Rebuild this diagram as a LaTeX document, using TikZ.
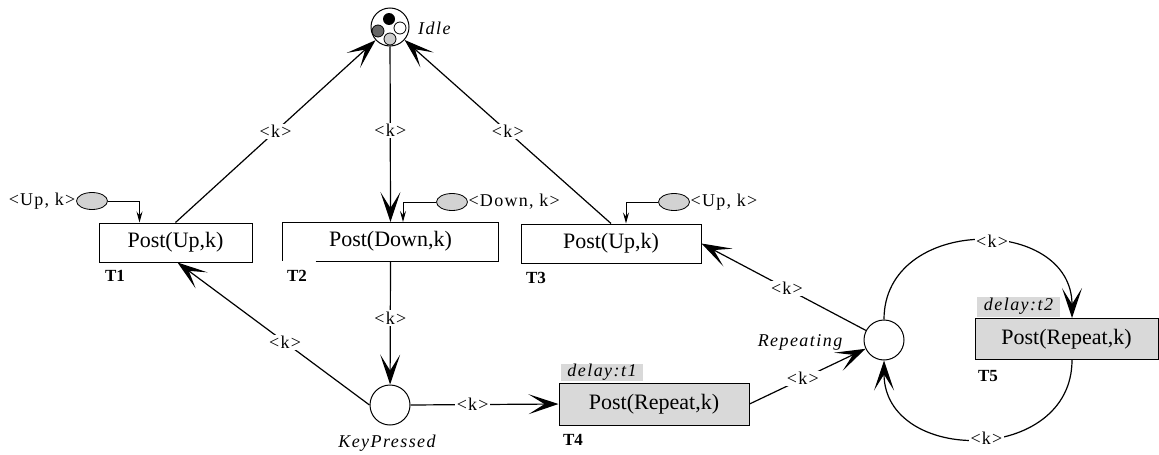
\documentclass[tikz,border=0pt]{standalone}
\usepackage{fontspec}
\setmainfont{Liberation Serif}
\newfontfamily\lsfont[LetterSpace=7]{Liberation Serif}
\newfontfamily\isfont[LetterSpace=8]{Liberation Serif}
\newfontfamily\psfont{Liberation Serif}
\newfontfamily\tbfont{Liberation Serif}
\usetikzlibrary{arrows.meta,shapes.geometric}
\newcommand\kfont{\lsfont\fontsize{18}{20}\selectfont}
\newcommand\ifont{\isfont\fontsize{18}{20}\selectfont\itshape}
\newcommand\postfont{\psfont\fontsize{22}{24}\selectfont}
\newcommand\tlfont{\tbfont\bfseries\fontsize{17}{19}\selectfont}
\begin{document}
\begin{tikzpicture}[x=1pt,y=-1pt,
  trans/.style={draw, line width=1pt, minimum height=39pt, inner sep=0pt, font=\postfont},
  place/.style={circle, draw, line width=1pt, minimum size=40pt, inner sep=0pt},
  inp/.style={ellipse, draw, fill=gray!35, minimum width=31pt, minimum height=17pt, inner sep=0pt, line width=0.8pt},
  arc/.style={line width=1.2pt, -{Stealth[length=30pt,width=20pt,inset=16pt]}},
  inarc/.style={line width=1pt, -{Stealth[length=11pt,width=6pt,inset=4pt]}},
  lbl/.style={fill=white, inner sep=1.5pt, font=\kfont},
  kl/.style={inner sep=0.5pt, font=\kfont},
  tlab/.style={inner sep=0pt, font=\tlfont},
  ilab/.style={inner sep=0pt, font=\ifont},
  delaybox/.style={fill=gray!30, inner sep=0pt, font=\ifont, minimum height=17pt}
]
\useasboundingbox (0,0) rectangle (1159,455);
% places
\node[place, minimum size=38pt] (idle) at (390,27) {};
\fill[black] (389,19) circle (6);
\draw[line width=0.8pt, fill=white] (400,28) circle (6);
\draw[line width=0.8pt, fill=gray!80!black] (378,31) circle (6);
\draw[line width=0.8pt, fill=gray!40] (390,39) circle (6);
\node[place] (kp) at (390,405) {};
\node[place] (rep) at (884,340) {};
% transitions
\node[trans, minimum width=153pt] (t1) at (175.5,242.5) {Post(Up,k)};
\node[trans, draw=none, minimum width=215pt, minimum height=38pt] (t2) at (390.5,241.5) {Post(Down,k)};
\draw[line width=1pt] ([xshift=33pt]t2.south west) -- (t2.south east) -- (t2.north east) -- (t2.north west) -- (t2.south west);
\node[trans, minimum width=180pt] (t3) at (611,243.5) {Post(Up,k)};
\node[trans, fill=gray!30, minimum width=190pt, minimum height=42pt] (t4) at (654,404) {Post(Repeat,k)};
\node[trans, fill=gray!30, minimum width=183pt, minimum height=41pt] (t5) at (1066.5,339) {Post(Repeat,k)};
\node[delaybox, minimum width=82pt] (d1) at (602,372) {delay:t1};
\node[delaybox, minimum width=83pt, minimum height=20pt] (d2) at (1018.5,306.5) {delay:t2};
% labels
\node[tlab] (lt1) at (115,276) {T1};
\node[tlab] (lt2) at (297,276) {T2};
\node[tlab] (lt3) at (536,278) {T3};
\node[tlab] (lt4) at (573,440) {T4};
\node[tlab] (lt5) at (988,376) {T5};
\node[ilab, anchor=west] (lidle) at (418,28) {Idle};
\node[ilab] (lkp) at (387,443) {KeyPressed};
\node[ilab] (lrep) at (800,342) {Repeating};
% input places
\node[inp] (e1) at (92,201) {};
\node[kl, anchor=east] (le1) at (e1.west) {<Up, k>};
\node[inp] (e2) at (452,202) {};
\node[kl, anchor=west] (le2) at (e2.east) {<Down, k>};
\node[inp] (e3) at (674,202) {};
\node[kl, anchor=west] (le3) at (e3.east) {<Up, k>};
\draw[inarc] (e1.east) -| ([xshift=-36pt]t1.north);
\draw[inarc] (e2.west) -| ([xshift=12.5pt]t2.north);
\draw[inarc] (e3.west) -| ([xshift=15pt]t3.north);
% arcs
\draw[arc] (t1.north) -- node[lbl,pos=0.5]{<k>} (idle);
\draw[arc] (idle) -- node[lbl,pos=0.48]{<k>} (t2.north);
\draw[arc] (t3.north) -- node[lbl,pos=0.5]{<k>} (idle);
\draw[arc] (t2.south) -- node[lbl,pos=0.46]{<k>} (kp);
\draw[arc] (kp.west) -- node[lbl,pos=0.44]{<k>} ([xshift=2pt]t1.south);
\draw[arc] (kp.east) -- node[lbl,pos=0.42]{<k>} (t4.west);
\draw[arc] (t4.east) -- node[lbl,pos=0.46]{<k>} (rep);
\draw[arc] (rep) -- node[lbl,pos=0.48]{<k>} (t3.east);
\draw[arc] (rep.north) .. controls (884,215) and (1072,215) .. node[lbl,pos=0.55]{<k>} ([xshift=5.5pt]t5.north);
\draw[arc] ([xshift=5.5pt]t5.south) .. controls (1072,465) and (884,465) .. node[lbl,pos=0.47]{<k>} (rep.south);
\end{tikzpicture}
\end{document}
